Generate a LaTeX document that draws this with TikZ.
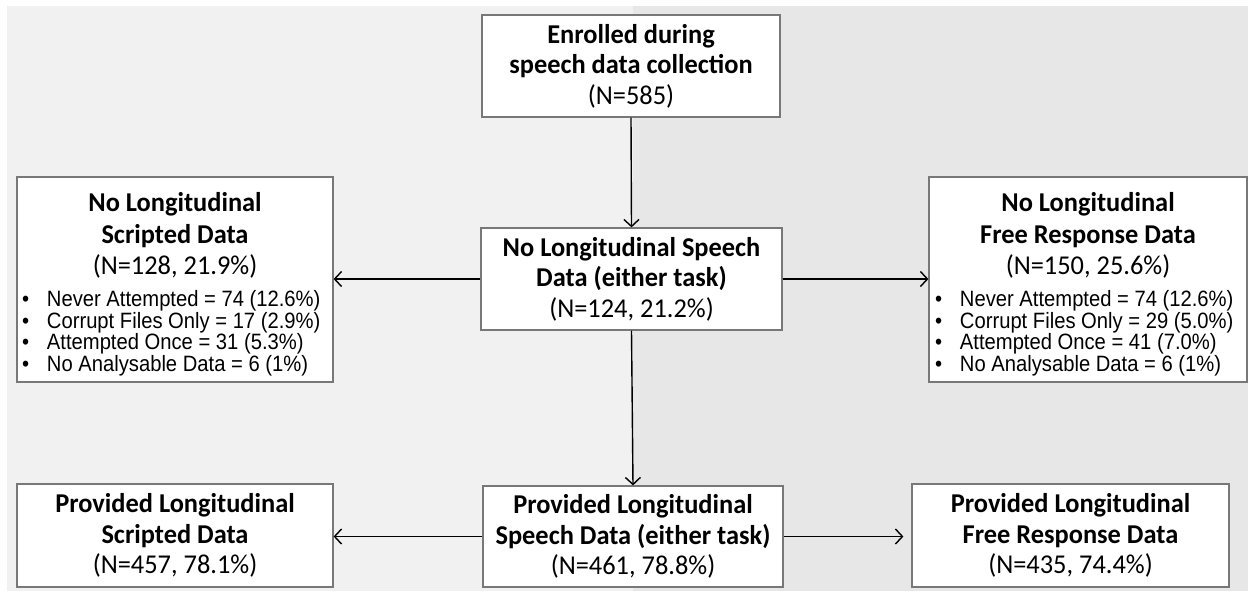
\documentclass[tikz,border=0pt]{standalone}
\usepackage{fontspec}
\setmainfont[FakeStretch=0.97]{Carlito}
\newfontfamily\arialfont[FakeStretch=0.91]{Liberation Sans}
\usepackage{xcolor}
\usetikzlibrary{arrows.meta,positioning}
\definecolor{leftgray}{RGB}{241,241,241}
\definecolor{rightgray}{RGB}{231,231,231}
\definecolor{boxline}{RGB}{120,120,120}
\tikzstyle{arrow} = [line width=0.7pt,-{Straight Barb[length=3.5pt,width=7.5pt]}]
\tikzstyle{box} = [draw=boxline,line width=0.6pt,fill=white,align=center,inner sep=0pt,font=\fontsize{13.6}{15.3}\selectfont\bfseries]
\newcommand{\bitem}[1]{\makebox[12.5pt][l]{\textbullet}#1\par}
\newcommand{\sidetext}[4]{\begin{minipage}{153pt}\vspace*{5pt}\centering
\fontsize{13.6}{15.75}\selectfont #1\\#2\\\mdseries #3\par\vspace{5pt}
\raggedright\arialfont\fontsize{11.1}{10.85}\selectfont #4\end{minipage}}

\begin{document}
\begin{tikzpicture}[x=0.5pt,y=-0.5pt]
\useasboundingbox (0,0) rectangle (1248,591);
\fill[white] (0,0) rectangle (1248,591);
\fill[leftgray] (7,6) rectangle (633,591);
\fill[rightgray] (633,6) rectangle (1248,591);

\node[box,minimum width=149pt,minimum height=51pt] (enrolled) at (631,66) {Enrolled during\\speech data collection\\\mdseries (N=585)};
\node[box,minimum width=150.5pt,minimum height=51pt] (nospeech) at (631.5,279) {No Longitudinal Speech\\Data (either task)\\\mdseries (N=124, 21.2\%)};
\node[box,minimum width=158pt,minimum height=102.5pt] (noscripted) at (175,279.5) {\sidetext{No Longitudinal}{Scripted Data}{(N=128, 21.9\%)}{\bitem{Never Attempted = 74 (12.6\%)}\bitem{Corrupt Files Only = 17 (2.9\%)}\bitem{Attempted Once = 31 (5.3\%)}\bitem{No Analysable Data = 6 (1\%)}}};
\node[box,minimum width=159pt,minimum height=102.5pt] (nofree) at (1088,279.5) {\sidetext{No Longitudinal}{Free Response Data}{(N=150, 25.6\%)}{\bitem{Never Attempted = 74 (12.6\%)}\bitem{Corrupt Files Only = 29 (5.0\%)}\bitem{Attempted Once = 41 (7.0\%)}\bitem{No Analysable Data = 6 (1\%)}}};

\node[box,minimum width=150pt,minimum height=50.5pt] (provspeech) at (633,536.5) {Provided Longitudinal\\Speech Data (either task)\\\mdseries (N=461, 78.8\%)};
\node[box,minimum width=158pt,minimum height=51.5pt] (provscripted) at (175,535.5) {Provided Longitudinal\\Scripted Data\\\mdseries (N=457, 78.1\%)};
\node[box,minimum width=158.5pt,minimum height=51.5pt] (provfree) at (1070.5,535.5) {Provided Longitudinal\\Free Response Data\\\mdseries (N=435, 74.4\%)};

\draw[arrow] (enrolled.south) -- (nospeech.north);
\draw[arrow] (nospeech.west) -- (nospeech.west -| noscripted.east);
\draw[arrow] (nospeech.east) -- (nospeech.east -| nofree.west);
\draw[arrow] (nospeech.south) -- (provspeech.north);
\draw[arrow] (provspeech.west) -- (provspeech.west -| provscripted.east);
\draw[arrow,shorten >=4pt] (provspeech.east) -- (provspeech.east -| provfree.west);
\end{tikzpicture}
\end{document}
